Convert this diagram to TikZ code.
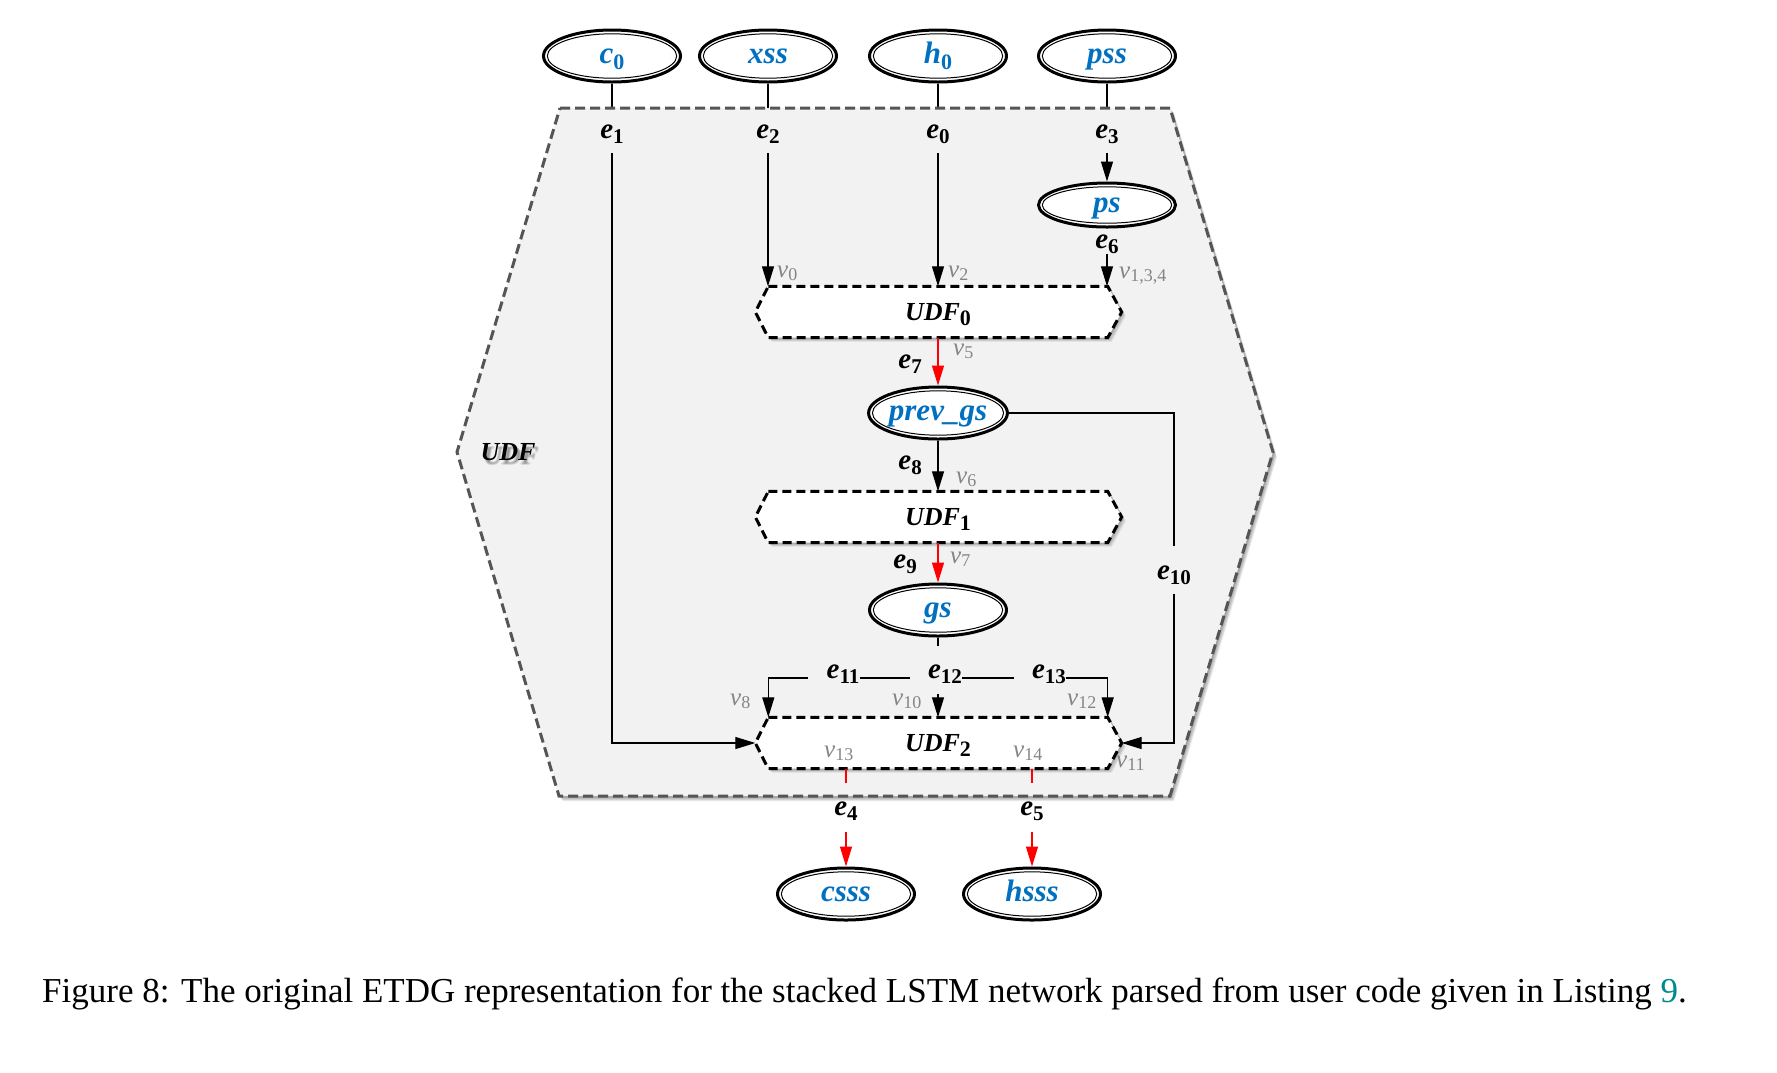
\documentclass[tikz,border=0pt]{standalone}
\usepackage{fontspec}
\setmainfont{Liberation Serif}
\usetikzlibrary{arrows.meta,shapes.geometric,calc}
\definecolor{nblue}{HTML}{0070C0}
\definecolor{vgray}{HTML}{858585}
\definecolor{hexfill}{HTML}{F2F2F2}
\definecolor{hexline}{HTML}{555555}
\definecolor{capteal}{HTML}{008B8B}
\pgfdeclarelayer{l0}\pgfdeclarelayer{l1}\pgfdeclarelayer{l2}
\pgfsetlayers{l0,l1,l2,main}
\newcommand\sbx[3]{\raisebox{-#2pt}{\fontsize{#1pt}{#1pt}\selectfont\upshape #3}}
\begin{document}
\begin{tikzpicture}[x=1pt,y=-1pt,
  ln/.style={line width=1.3pt, draw=black},
  arr/.style={ln, -{Triangle[length=20pt,width=12pt]}},
  rln/.style={line width=1.3pt, draw=red},
  rarr/.style={rln, -{Triangle[length=20pt,width=12pt]}},
  elab/.style={font=\fontsize{29pt}{29pt}\selectfont\bfseries\itshape, inner sep=0pt, text height=13pt, text depth=6pt, anchor=base},
  vlab/.style={font=\fontsize{25pt}{25pt}\selectfont\itshape, text=vgray, inner sep=0pt, anchor=base west},
  dell/.style={ellipse, draw=black, line width=3pt, fill=white, minimum width=137pt, minimum height=52pt, inner sep=0pt,
    text=nblue, font=\fontsize{31pt}{31pt}\selectfont\bfseries\itshape, text height=15pt, text depth=0pt,
    path picture={\draw[line width=1pt, black] let \p1=($(path picture bounding box.north east)-(path picture bounding box.center)$) in (path picture bounding box.center) ellipse ({\x1-3.8pt} and {\y1-3.8pt});}},
  udf/.style={rectangle, minimum width=339pt, minimum height=51pt, inner sep=0pt,
    font=\fontsize{26pt}{26pt}\selectfont\bfseries\itshape, text height=17pt, text depth=0pt},
  udfline/.style={draw=black, line width=3pt, dash pattern=on 9pt off 5pt, fill=white},
  hexst/.style={draw=hexline, line width=3pt, dash pattern=on 10pt off 5pt, fill=hexfill},
  shadowst/.style={fill=black, opacity=0.09},
  ulab/.style={font=\fontsize{26pt}{26pt}\selectfont\bfseries\itshape, inner sep=0pt, text height=17pt, text depth=0pt}
]
\useasboundingbox (0,0) rectangle (1777,1072);
\begin{pgfonlayer}{l0}\fill[white] (0,0) rectangle (1777,1072);\end{pgfonlayer}

% data nodes
\node[dell] (c0) at (612,56) {c\sbx{22}{6}{0}};
\node[dell] (xss) at (768,56) {xss};
\node[dell] (h0) at (938,56) {h\sbx{22}{6}{0}};
\node[dell] (pss) at (1107,56) {pss};
\node[dell, minimum height=44pt] (ps) at (1107,205) {ps};
\node[dell] (pg) at (938,413) {prev\_gs};
\node[dell] (gs) at (938,610) {gs};
\node[dell] (csss) at (846,894) {csss};
\node[dell] (hsss) at (1032,894) {hsss};

% UDF nodes
\node[udf] (u0) at (938,312) {UDF\sbx{22}{5}{0}};
\node[udf] (u1) at (938,517) {UDF\sbx{22}{5}{1}};
\node[udf] (u2) at (938,743) {UDF\sbx{22}{5}{2}};
\coordinate (u2w) at ([xshift=-13pt]u2.west);
\coordinate (u2e) at ([xshift=14pt]u2.east);

% outer UDF label with its soft shadow
\begin{pgfonlayer}{l2}
\foreach \dx/\dy in {2/4,3/5,4/4,3/3}{\node[ulab, text=black, opacity=.1] at (508+\dx,452+\dy) {UDF};}
\end{pgfonlayer}
\node[ulab] (udfl) at (508,452) {UDF};

% edge labels
\node[elab] (e1) at (612,138) {e\sbx{21}{5}{1}};
\node[elab] (e2) at (768,138) {e\sbx{21}{5}{2}};
\node[elab] (e0) at (938,138) {e\sbx{21}{5}{0}};
\node[elab] (e3) at (1107,138) {e\sbx{21}{5}{3}};
\node[elab] (e6) at (1107,248) {e\sbx{21}{5}{6}};
\node[elab, anchor=base east] (e7) at (922,368) {e\sbx{21}{5}{7}};
\node[elab, anchor=base east] (e8) at (922,469) {e\sbx{21}{5}{8}};
\node[elab, anchor=base east] (e9) at (917,568) {e\sbx{21}{5}{9}};
\node[elab] (e10) at (1174,579) {e\sbx{21}{5}{10}};
\node[elab] (e11) at (843,678) {e\sbx{21}{5}{11}};
\node[elab] (e12) at (945,678) {e\sbx{21}{5}{12}};
\node[elab] (e13) at (1049,678) {e\sbx{21}{5}{13}};
\node[elab] (e4) at (846,815) {e\sbx{21}{5}{4}};
\node[elab] (e5) at (1032,815) {e\sbx{21}{5}{5}};

% port labels
\node[vlab] (v0) at (777,277) {v\sbx{18}{3}{0}};
\node[vlab] (v2) at (948,277) {v\sbx{18}{3}{2}};
\node[vlab] (v134) at (1119,278) {v\sbx{18}{3}{1,3,4}};
\node[vlab] (v5) at (953,355) {v\sbx{18}{3}{5}};
\node[vlab] (v6) at (956,483) {v\sbx{18}{3}{6}};
\node[vlab] (v7) at (950,563) {v\sbx{18}{3}{7}};
\node[vlab] (v8) at (730,705) {v\sbx{18}{3}{8}};
\node[vlab] (v10) at (892,705) {v\sbx{18}{3}{10}};
\node[vlab] (v12) at (1067,705) {v\sbx{18}{3}{12}};
\node[vlab] (v13) at (824,757) {v\sbx{18}{3}{13}};
\node[vlab] (v14) at (1013,757) {v\sbx{18}{3}{14}};
\node[vlab] (v11) at (1116,767) {v\sbx{18}{3}{11}};

% input lines (their inner part is covered by the UDF region)
\begin{pgfonlayer}{l0}
\draw[ln] (c0) -- (e1);
\draw[ln] (xss) -- (e2);
\draw[ln] (h0) -- (e0);
\draw[ln] (pss) -- (e3);
\end{pgfonlayer}

% UDF region with soft shadow
\begin{pgfonlayer}{l1}
\foreach \s in {1,2,3,4,5}{
  \fill[shadowst, shift={(\s*0.8,\s)}] (560,108) -- (1170,108) -- (1273,452) -- (1170,796) -- (559,796) -- (457,452) -- cycle;}
\draw[hexst] (560,108) -- (1170,108) -- (1273,452) -- (1170,796) -- (559,796) -- (457,452) -- cycle;
\end{pgfonlayer}

% UDF boxes with soft shadow
\begin{pgfonlayer}{l2}
\foreach \u in {u0,u1,u2}{
  \foreach \s in {1,2,3,4}{
    \fill[shadowst] ([shift={(\s,\s)}]\u.north west) -- ([shift={(\s,\s)}]\u.north east) -- ([shift={(\s+14,\s)}]\u.east) -- ([shift={(\s,\s)}]\u.south east) -- ([shift={(\s,\s)}]\u.south west) -- ([shift={(\s-13,\s)}]\u.west) -- cycle;}
  \draw[udfline] (\u.north west) -- (\u.north east) -- ([xshift=14pt]\u.east) -- (\u.south east) -- (\u.south west) -- ([xshift=-13pt]\u.west) -- cycle;}
\end{pgfonlayer}

% connectors
\draw[arr, shorten <=9pt] (e1.south) |- (u2w);
\draw[arr, shorten <=9pt] (e2.south) -- (e2.south |- u0.north);
\draw[arr, shorten <=9pt] (e0.south) -- (e0.south |- u0.north);
\draw[arr, shorten <=9pt] (e3.south) -- (ps.north);
\draw[arr] (e6.south) -- (e6.south |- u0.north);
\draw[rarr] (u0.south) -- (pg.north);
\draw[arr] (pg.south) -- (u1.north);
\draw[rarr] (u1.south) -- (gs.north);
\draw[ln, shorten >=19pt] (gs.south) -- (gs.south |- e12.north);
\draw[arr, shorten <=10pt] (gs.south |- e12.south) -- (u2.north);
\draw[ln, shorten >=18pt] (e11.base east) -- (e12.base west);
\draw[arr, shorten <=18pt] (e11.base west) -| (u2.north west);
\draw[ln, shorten >=18pt] (e12.base east) -- (e13.base west);
\draw[arr] (e13.base east) -| (u2.north east);
\draw[ln, shorten >=20pt] (pg.east) -| (e10.north);
\draw[arr, shorten <=9pt] (e10.south) |- (u2e);
\draw[rln, shorten >=19pt] (e4.north |- u2.south) -- (e4.north);
\draw[rarr, shorten <=11pt] (e4.south) -- (csss.north);
\draw[rln, shorten >=19pt] (e5.north |- u2.south) -- (e5.north);
\draw[rarr, shorten <=11pt] (e5.south) -- (hsss.north);

% caption
\node[anchor=base west, inner sep=0pt, font=\fontsize{35pt}{35pt}\selectfont] (cap) at (42,1002)
  {Figure 8: The original ETDG representation for the stacked LSTM network parsed from user code given in Listing \textcolor{capteal}{9}.};
\end{tikzpicture}
\end{document}
